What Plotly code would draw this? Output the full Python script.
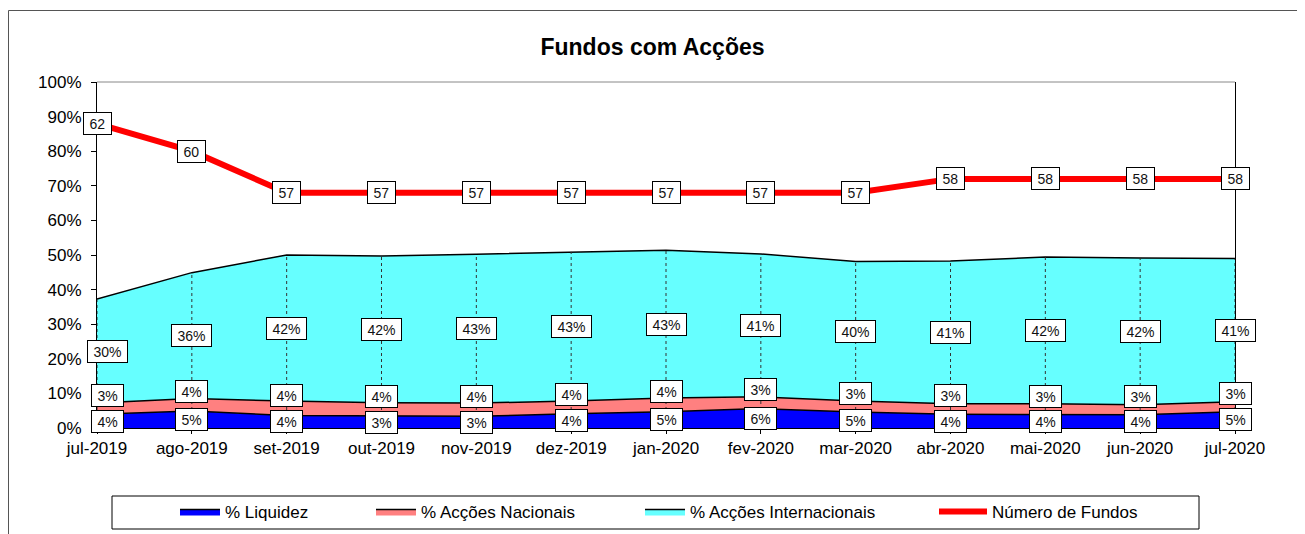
import plotly.graph_objects as go

# ---------------- data ----------------
categories = ["jul-2019", "ago-2019", "set-2019", "out-2019", "nov-2019", "dez-2019",
              "jan-2020", "fev-2020", "mar-2020", "abr-2020", "mai-2020", "jun-2020", "jul-2020"]
liquidez = [4.0, 4.9, 3.6, 3.4, 3.4, 4.1, 4.7, 5.6, 4.6, 4.0, 3.9, 3.8, 4.7]
accoes_nacionais = [3.2, 3.6, 4.2, 3.9, 3.8, 3.7, 4.0, 3.4, 3.2, 3.0, 3.1, 2.9, 2.9]
accoes_internacionais = [30.1, 36.4, 42.2, 42.4, 43.0, 43.1, 42.7, 41.3, 40.3, 41.3, 42.4, 42.4, 41.4]
numero_fundos = [62, 60, 57, 57, 57, 57, 57, 57, 57, 58, 58, 58, 58]
y_ticks = [0, 10, 20, 30, 40, 50, 60, 70, 80, 90, 100]
series_names = ["% Liquidez", "% Acções Nacionais", "% Acções Internacionais", "Número de Fundos"]

# ---------------- layout geometry ----------------
OFF = 8                      # page offset of the figure (body margin)
W, H = 1305 - OFF, 534 - OFF  # figure size so it fits the window
# plot area in page pixels
P_LEFT, P_RIGHT, P_TOP, P_BOTTOM = 97, 1235, 82, 428
L = P_LEFT - OFF
R = W - (P_RIGHT - OFF)
T = P_TOP - OFF
B = H - (P_BOTTOM - OFF)
PW, PH = W - L - R, H - T - B
FONT = "Liberation Sans, Arial, sans-serif"


def px_x(page_px):
    return (page_px - OFF - L) / PW


def px_y(page_py):
    return (P_BOTTOM - page_py) / PH


def box_width(text):
    digits = sum(ch.isdigit() for ch in text)
    return 7.8 * digits + (12.4 if "%" in text else 0) + 7


fig = go.Figure()

area_colors = ["#0000FF", "#FF8080", "#66FFFF"]
area_series = [liquidez, accoes_nacionais, accoes_internacionais]
for i, (vals, col) in enumerate(zip(area_series, area_colors)):
    fig.add_trace(go.Scatter(
        x=categories, y=vals, name=series_names[i], stackgroup="pct", mode="lines",
        line=dict(color="black", width=1.5), fillcolor=col,
        legend=["legend", "legend2", "legend3"][i], hoverinfo="x+y+name"))

fig.add_trace(go.Scatter(
    x=categories, y=numero_fundos, name=series_names[3], yaxis="y2", mode="lines",
    line=dict(color="#FF0000", width=6), legend="legend4"))

# ---------------- annotations (data labels) ----------------
annotations = []
label_style = dict(showarrow=False, bgcolor="white", bordercolor="black", borderwidth=1,
                   borderpad=2, height=17, font=dict(family=FONT, size=14, color="#111111"))

for i, c in enumerate(categories):
    liq, nac, itl = liquidez[i], accoes_nacionais[i], accoes_internacionais[i]
    shift = 10 if i == 0 else 0
    for val, ypos, ysh in [(liq, liq / 2, 0), (nac, liq + nac / 2, 13),
                           (itl, liq + nac + itl / 2, 0)]:
        t = f"{round(val)}%"
        annotations.append(dict(x=c, y=ypos, xref="x", yref="y", text=t, xshift=shift,
                                yshift=ysh, width=box_width(t), **label_style))
    t = f"{numero_fundos[i]}"
    annotations.append(dict(x=c, y=numero_fundos[i], xref="x", yref="y2", text=t,
                            width=box_width(t), **label_style))

# ---------------- shapes ----------------
shapes = []
# drop lines
for i, c in enumerate(categories):
    total = liquidez[i] + accoes_nacionais[i] + accoes_internacionais[i]
    shapes.append(dict(type="line", xref="x", yref="y", x0=c, x1=c, y0=0, y1=total,
                       line=dict(color="#333333", width=1, dash="dot"), layer="above"))
# top border of plot area
shapes.append(dict(type="line", xref="paper", yref="paper", x0=0, x1=1, y0=1, y1=1,
                   line=dict(color="#888888", width=1)))
# outer chart border
shapes.append(dict(type="rect", xref="paper", yref="paper", x0=px_x(OFF + 0.5),
                   x1=px_x(1303.5), y0=px_y(560), y1=px_y(10.5),
                   line=dict(color="#555555", width=1)))
# legend box
shapes.append(dict(type="rect", xref="paper", yref="paper", x0=px_x(112), x1=px_x(1199),
                   y0=px_y(529), y1=px_y(496), line=dict(color="black", width=1)))

# legend text start positions (page px) and symbol widths
legend_text_starts = [225, 421, 690, 992]
legend_item_widths = [40, 40, 40, 48]
legend_common = dict(orientation="h", xanchor="left", yanchor="middle", y=px_y(512),
                     bgcolor="rgba(0,0,0,0)", borderwidth=0,
                     font=dict(family=FONT, size=17, color="black"))
legends = {}
for k, (ts, iw) in enumerate(zip(legend_text_starts, legend_item_widths)):
    key = "legend" if k == 0 else f"legend{k + 1}"
    legends[key] = dict(x=px_x(ts - iw - 10), itemwidth=iw, **legend_common)

fig.update_layout(
    width=W, height=H,
    margin=dict(l=L, r=R, t=T, b=B, autoexpand=False),
    paper_bgcolor="white", plot_bgcolor="white",
    font=dict(family=FONT, color="black"),
    title=dict(text="Fundos com Acções", x=(652.5 - OFF) / W, xref="container",
               xanchor="center", y=1 - (47 - OFF) / H, yref="container", yanchor="middle",
               font=dict(family=FONT, size=23, color="black", weight="bold")),
    xaxis=dict(type="category", range=[0, len(categories) - 1], showline=True,
               linecolor="black", linewidth=1, ticks="outside", ticklen=5,
               tickcolor="black", tickfont=dict(family=FONT, size=17, color="black"),
               showgrid=False, zeroline=False),
    yaxis=dict(range=[0, 100], tickvals=y_ticks, ticktext=[f"{v}%" for v in y_ticks],
               showline=True, linecolor="black", linewidth=1, ticks="outside",
               ticklen=5, tickcolor="black", ticklabelstandoff=6,
               tickfont=dict(family=FONT, size=17, color="black"),
               showgrid=False, zeroline=False),
    yaxis2=dict(range=[40, 65], overlaying="y", side="right", showline=True,
                linecolor="black", linewidth=1, showticklabels=False, ticks="",
                showgrid=False, zeroline=False),
    annotations=annotations,
    shapes=shapes,
    showlegend=True,
    **legends,
)

fig.write_html("out.html")
